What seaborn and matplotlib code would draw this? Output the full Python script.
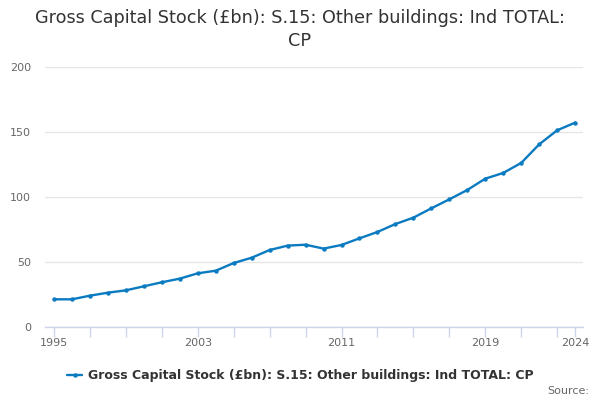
import matplotlib
matplotlib.use("Agg")
import matplotlib.pyplot as plt
import seaborn as sns
import pandas as pd

# values
years = list(range(1995, 2025))
stock = [21.3, 21.3, 24.1, 26.4, 28.2, 31.3, 34.4, 37.2, 41.3, 43.3,
         49.2, 53.3, 59.2, 62.6, 63.3, 60.3, 63.1, 68.2, 73.1, 79.2,
         84.1, 91.3, 98.2, 105.4, 114.1, 118.5, 126.2, 140.5, 151.3, 157.2]
series_name = "Gross Capital Stock (£bn): S.15: Other buildings: Ind TOTAL: CP"
tick_years = list(range(1995, 2024, 2)) + [2024]
label_years = [1995, 2003, 2011, 2019, 2024]
y_ticks = [0, 50, 100, 150, 200]

df = pd.DataFrame({"year": years, "value": stock})

sns.set_theme(style="white")
plt.rcParams['font.family'] = ['DejaVu Sans']

fig = plt.figure(figsize=(6, 4), dpi=100)
ax = fig.add_axes([0.075, 0.1825, 0.897, 0.65])

line_col = "#0b7bc1"
sns.lineplot(data=df, x="year", y="value", ax=ax, color=line_col, linewidth=1.7,
             marker="o", markersize=3.2, markeredgewidth=0, label=series_name)

ax.set_xlim(1994.5, 2024.45)
ax.set_ylim(0, 200)
ax.set_xlabel("")
ax.set_ylabel("")

# gridlines
ax.set_yticks(y_ticks)
ax.set_yticklabels([str(v) for v in y_ticks], color="#666666", fontsize=8)
ax.yaxis.grid(True, color="#e6e6e6", linewidth=1)
ax.tick_params(axis="y", length=0, pad=10)

ax.set_xticks(tick_years)
ax.set_xticklabels([str(y) if y in label_years else "" for y in tick_years],
                   color="#666666", fontsize=8)
ax.tick_params(axis="x", bottom=True, length=7, width=1, color="#ccd6eb",
               pad=1, direction="out")

for s in ["top", "right", "left"]:
    ax.spines[s].set_visible(False)
ax.spines["bottom"].set_color("#ccd6eb")
ax.spines["bottom"].set_linewidth(1)

fig.text(0.5, 0.978, "Gross Capital Stock (£bn): S.15: Other buildings: Ind TOTAL:\nCP",
         ha="center", va="top", fontsize=12.7, color="#333333", linespacing=1.4)

ax.legend(loc="upper center", bbox_to_anchor=(0.475, -0.12), frameon=False,
          prop={"weight": "bold", "size": 9}, handlelength=1.2,
          handletextpad=0.5, labelcolor="#333333")

fig.text(0.982, 0.022, "Source:", ha="right", va="center", fontsize=8, color="#666666")

fig.savefig("out.png", dpi=100)
